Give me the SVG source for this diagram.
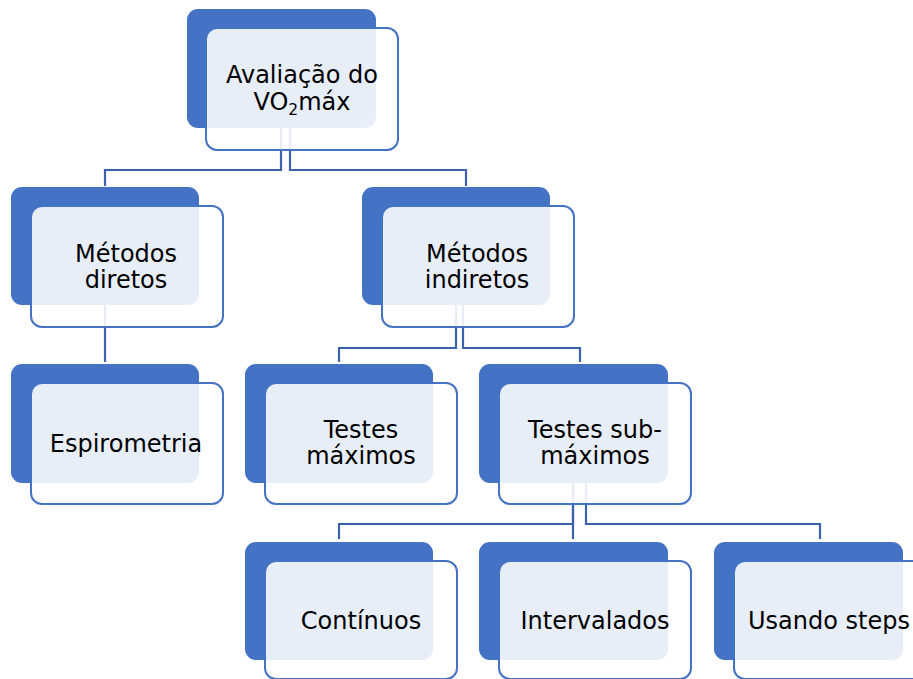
<svg xmlns="http://www.w3.org/2000/svg" width="913" height="679" viewBox="0 0 913 679">
<style>
.back{fill:#4472C4;}
.front{fill:#FFFFFF;fill-opacity:0.88;stroke:#4472C4;stroke-width:2;}
.lbl{font-family:"DejaVu Sans","Verdana",sans-serif;font-size:24px;fill:#000;text-anchor:middle;}
.sub{font-size:15.5px;}
.conn{fill:none;stroke:#3B62AE;stroke-width:2.2;}
</style>
<rect width="913" height="679" fill="#FFFFFF"/>
<g id="connectors" class="conn">
<path d="M281 128 V170 H105 V186"/>
<path d="M290 128 V170 H466 V186"/>
<path d="M105 305 V362"/>
<path d="M456 305 V348 H339 V362"/>
<path d="M463 305 V348 H580 V362"/>
<path d="M573 482 V524 H339 V539"/>
<path d="M573 482 V539"/>
<path d="M586 482 V524 H820 V539"/>
</g>
<g id="n-avaliacao">
<rect class="back" x="187" y="9" width="189" height="119" rx="11"/>
<rect class="front" x="206" y="28" width="192" height="122" rx="11"/>
<text class="lbl" x="302" y="83">Avaliação do</text>
<text class="lbl" x="302" y="110">VO<tspan class="sub" dy="5">2</tspan><tspan dy="-5">máx</tspan></text>
</g>
<g id="n-diretos">
<rect class="back" x="11" y="187" width="188" height="118" rx="11"/>
<rect class="front" x="31" y="206" width="192" height="121" rx="11"/>
<text class="lbl" x="126" y="262">Métodos</text>
<text class="lbl" x="126" y="288">diretos</text>
</g>
<g id="n-indiretos">
<rect class="back" x="362" y="187" width="188" height="118" rx="11"/>
<rect class="front" x="382" y="206" width="192" height="121" rx="11"/>
<text class="lbl" x="477" y="262">Métodos</text>
<text class="lbl" x="477" y="288">indiretos</text>
</g>
<g id="n-espirometria">
<rect class="back" x="11" y="364" width="188" height="119" rx="11"/>
<rect class="front" x="31" y="383" width="192" height="121" rx="11"/>
<text class="lbl" x="126" y="452">Espirometria</text>
</g>
<g id="n-maximos">
<rect class="back" x="245" y="364" width="188" height="119" rx="11"/>
<rect class="front" x="265" y="383" width="192" height="121" rx="11"/>
<text class="lbl" x="361" y="438">Testes</text>
<text class="lbl" x="361" y="464">máximos</text>
</g>
<g id="n-submaximos">
<rect class="back" x="479" y="364" width="189" height="119" rx="11"/>
<rect class="front" x="499" y="383" width="192" height="121" rx="11"/>
<text class="lbl" x="595" y="438">Testes sub-</text>
<text class="lbl" x="595" y="464">máximos</text>
</g>
<g id="n-continuos">
<rect class="back" x="245" y="542" width="188" height="118" rx="11"/>
<rect class="front" x="265" y="561" width="192" height="118" rx="11"/>
<text class="lbl" x="361" y="629">Contínuos</text>
</g>
<g id="n-intervalados">
<rect class="back" x="479" y="542" width="189" height="118" rx="11"/>
<rect class="front" x="499" y="561" width="192" height="118" rx="11"/>
<text class="lbl" x="595" y="629">Intervalados</text>
</g>
<g id="n-steps">
<rect class="back" x="714" y="542" width="189" height="118" rx="11"/>
<rect class="front" x="734" y="561" width="192" height="118" rx="11"/>
<text class="lbl" x="829" y="629">Usando steps</text>
</g>
</svg>
